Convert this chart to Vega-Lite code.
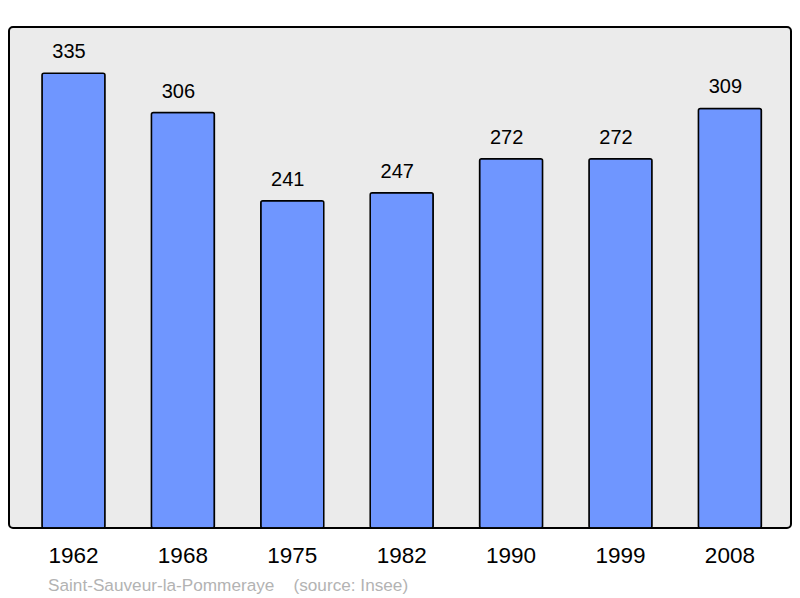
{
  "$schema": "https://vega.github.io/schema/vega-lite/v6.json",
  "autosize": {"type": "none"},
  "width": 782,
  "height": 501,
  "padding": {"left": 9, "top": 27, "right": 9, "bottom": 70},
  "background": "white",
  "config": {
    "font": "Liberation Sans",
    "view": {"fill": "#ebebeb", "stroke": "#000000", "strokeWidth": 2, "cornerRadius": 4}
  },
  "title": {
    "text": "Saint-Sauveur-la-Pommeraye\u00a0\u00a0\u00a0\u00a0(source: Insee)",
    "orient": "bottom",
    "anchor": "start",
    "dx": 39,
    "offset": 10,
    "fontSize": 17.2,
    "fontWeight": "normal",
    "color": "#b3b3b3",
    "font": "Liberation Sans"
  },
  "data": {
    "values": [
      {"year": "1962", "pop": 335},
      {"year": "1968", "pop": 306},
      {"year": "1975", "pop": 241},
      {"year": "1982", "pop": 247},
      {"year": "1990", "pop": 272},
      {"year": "1999", "pop": 272},
      {"year": "2008", "pop": 309}
    ]
  },
  "encoding": {
    "x": {
      "field": "year", "type": "nominal", "sort": null,
      "scale": {"paddingInner": 0.424, "paddingOuter": 0.286, "align": 0.527},
      "axis": {"title": null, "domain": false, "ticks": false, "labelAngle": 0, "labelFontSize": 22.5, "labelPadding": 16, "labelColor": "#000000", "labelFont": "Liberation Sans"}
    },
    "y": {
      "field": "pop", "type": "quantitative",
      "scale": {"domain": [0, 369], "nice": false},
      "axis": null
    }
  },
  "layer": [
    {"mark": {"type": "bar", "fill": "#6f96ff", "stroke": "#000000", "strokeWidth": 1.5, "cornerRadius": 2}},
    {"mark": {"type": "text", "baseline": "alphabetic", "dx": -4.5, "dy": -15, "fontSize": 20, "color": "#000000", "font": "Liberation Sans"}, "encoding": {"text": {"field": "pop", "type": "quantitative"}}}
  ]
}
